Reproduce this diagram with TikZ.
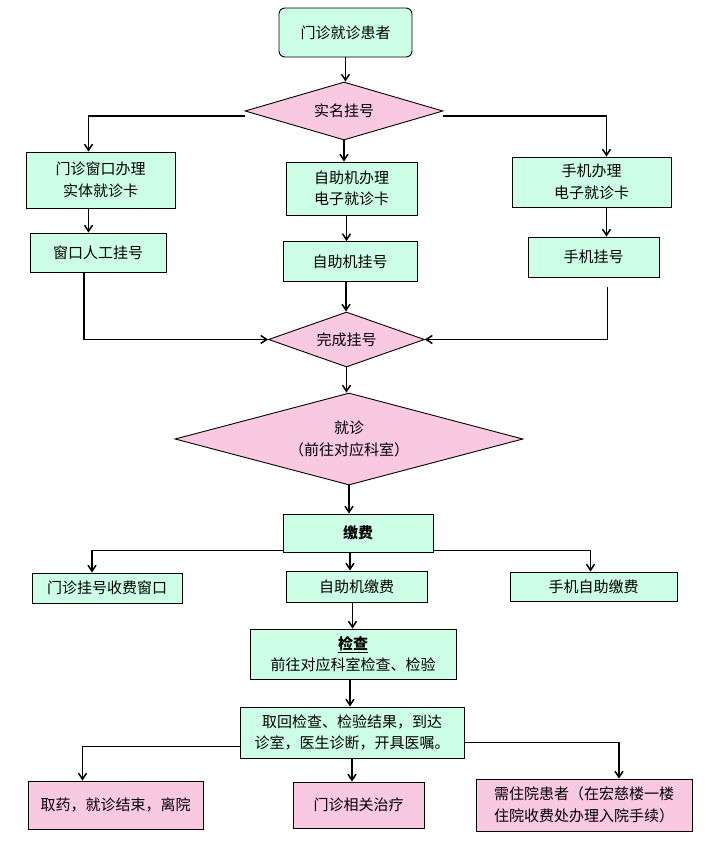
\documentclass[tikz,border=0pt]{standalone}
\usepackage{fontspec}
\newfontfamily\cjk{Noto Sans CJK SC}
\usetikzlibrary{shapes.geometric,arrows.meta,calc}
\definecolor{mint}{RGB}{204,255,230}
\definecolor{pinkf}{RGB}{249,200,225}
\begin{document}
\begin{tikzpicture}[x=1pt,y=-1pt,
  font=\cjk\fontsize{15}{21.5}\selectfont,
  gbox/.style={draw=black,line width=0.9pt,fill=mint,inner sep=0pt,align=center},
  pbox/.style={draw=black,line width=0.9pt,fill=pinkf,inner sep=0pt,align=center},
  dia/.style={diamond,draw=black,line width=0.9pt,fill=pinkf,inner sep=0pt,align=center},
  conn/.style={line width=1.8pt,-{Straight Barb[length=6pt,width=8pt,line width=1.5pt]}}]
\path[fill=white] (0,0) rectangle (708,841);
\useasboundingbox (0,0) rectangle (708,841);

\node[gbox,rounded corners=6pt,minimum width=133pt,minimum height=49pt] (top) at (345.5,32.5) {门诊就诊患者};
\node[dia,shape aspect=3.4,minimum width=198pt,minimum height=58pt] (d1) at (344,111) {实名挂号};

\node[gbox,minimum width=149pt,minimum height=56pt] (b1) at (100.5,180) {门诊窗口办理\\实体就诊卡};
\node[gbox,minimum width=131pt,minimum height=53pt] (b2) at (351.5,188.5) {自助机办理\\电子就诊卡};
\node[gbox,minimum width=159pt,minimum height=50pt] (b3) at (591.5,182) {手机办理\\电子就诊卡};

\node[gbox,minimum width=136pt,minimum height=39pt] (r1) at (98,252.5) {窗口人工挂号};
\node[gbox,minimum width=134pt,minimum height=40pt] (r2) at (350,261.5) {自助机挂号};
\node[gbox,minimum width=131pt,minimum height=40pt] (r3) at (593.5,257) {手机挂号};

\node[dia,shape aspect=2.8,minimum width=156pt,minimum height=55pt] (d2) at (346.5,339.5) {完成挂号};
\node[dia,shape aspect=3.8,minimum width=348pt,minimum height=92pt] (d3) at (349,439) {就诊\\（前往对应科室）};

\node[gbox,minimum width=150pt,minimum height=38pt,font=\cjk\fontsize{15}{21.5}\selectfont\bfseries] (pay) at (358,533) {缴费};
\node[gbox,minimum width=150pt,minimum height=30pt] (p1) at (107,588) {门诊挂号收费窗口};
\node[gbox,minimum width=141pt,minimum height=31pt] (p2) at (356.5,586.5) {自助机缴费};
\node[gbox,minimum width=167pt,minimum height=29pt] (p3) at (593.5,586.5) {手机自助缴费};

\node[gbox,minimum width=206pt,minimum height=50pt] (exam) at (353,654) {\textbf{\underline{检查}}\\前往对应科室检查、检验};
\node[gbox,minimum width=224pt,minimum height=51pt] (res) at (352,732.5) {取回检查、检验结果，到达\\诊室，医生诊断，开具医嘱。};

\node[pbox,minimum width=175pt,minimum height=48pt] (o1) at (115.5,805) {取药，就诊结束，离院};
\node[pbox,minimum width=131pt,minimum height=46pt] (o2) at (358.5,805) {门诊相关治疗};
\node[pbox,minimum width=216pt,minimum height=52pt] (o3) at (584,805) {需住院患者（在宏慈楼一楼\\住院收费处办理入院手续）};

% connectors
\draw[conn] (top.south) -- (top.south |- d1.north);
\draw[conn] ([yshift=-5pt]d1.west) -| ([xshift=-12pt]b1.north);
\draw[conn] ([yshift=-5pt]d1.east) -| ([xshift=15pt]b3.north);
\draw[conn] (d1.south) -- (d1.south |- b2.north);

\draw[conn] ([xshift=-12pt]b1.south) -- ([xshift=-12pt]b1.south |- r1.north);
\draw[conn] ([xshift=-5pt]b2.south) -- ([xshift=-5pt]b2.south |- r2.north);
\draw[conn] ([xshift=15pt]b3.south) -- ([xshift=15pt]b3.south |- r3.north);

\draw[conn] ([xshift=-14pt]r1.south) |- (d2.west);
\draw[conn] ([xshift=14pt,yshift=-10pt]r3.south) |- (d2.east);
\draw[conn] ([xshift=-4pt]r2.south) -- ([xshift=-4pt]r2.south |- d2.north);

\draw[conn] (d2.south) -- (d2.south |- d3.north);
\draw[conn] (d3.south) -- (d3.south |- pay.north);

\draw[conn] ([yshift=2pt]pay.south west) -| ([xshift=-15pt]p1.north);
\draw[conn] ([yshift=2pt]pay.south east) -| ([xshift=-3pt]p3.north);
\draw[conn] ([xshift=-8pt]pay.south) -- ([xshift=-8pt]pay.south |- p2.north);

\draw[conn] ([xshift=-4pt]p2.south) -- ([xshift=-4pt]p2.south |- exam.north);
\draw[conn] ([xshift=-3pt]exam.south) -- ([xshift=-3pt]exam.south |- res.north);

\draw[conn] ([yshift=-14pt]res.west) -| ([xshift=-33pt]o1.north);
\draw[conn] ([yshift=-10pt]res.east) -| ([xshift=35pt]o3.north);
\draw[conn] (res.south) -- (res.south |- o2.north);
\end{tikzpicture}
\end{document}
